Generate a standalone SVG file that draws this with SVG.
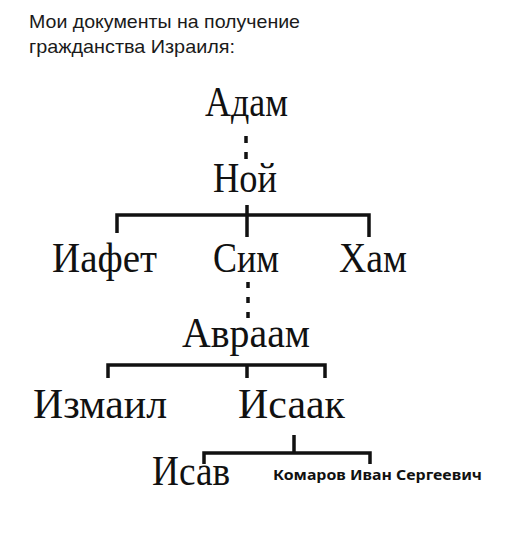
<svg xmlns="http://www.w3.org/2000/svg" width="526" height="539" viewBox="0 0 526 539">
<style>
.hdr{font-family:"Liberation Sans",Arial,sans-serif;font-size:18.5px;fill:#1a1a1a}
.nm{font-family:"Liberation Serif","Times New Roman",serif;font-size:43px;fill:#111}
.sm{font-family:"Noto Sans","Open Sans",sans-serif;font-size:14px;font-weight:bold;fill:#111}
.ln{stroke:#111;stroke-width:3.5;fill:none}
.dt{stroke:#111;stroke-width:3.5;fill:none}
</style>
<rect width="526" height="539" fill="#fff"/>
<g id="header">
<text class="hdr" x="29" y="28" textLength="271" lengthAdjust="spacingAndGlyphs">Мои документы на получение</text>
<text class="hdr" x="29" y="53" textLength="206" lengthAdjust="spacingAndGlyphs">гражданства Израиля:</text>
</g>
<g id="connectors">
<path class="dt" d="M246 136V143M246 152V159"/>
<path class="ln" d="M247 205V237M117 233V215H369V237"/>
<path class="dt" d="M248 282V288M248 297V303M248 312V318"/>
<path class="ln" d="M108 378V365H325V378M247 365V378"/>
<path class="ln" d="M294 435V453M204 464V453H370V464"/>
</g>
<g id="adam"><text class="nm" x="205" y="116" textLength="83" lengthAdjust="spacingAndGlyphs">Адам</text></g>
<g id="noah"><text class="nm" x="213" y="192" textLength="64" lengthAdjust="spacingAndGlyphs">Ной</text></g>
<g id="japheth"><text class="nm" x="52" y="272" textLength="105" lengthAdjust="spacingAndGlyphs">Иафет</text></g>
<g id="shem"><text class="nm" x="213" y="272" textLength="66" lengthAdjust="spacingAndGlyphs">Сим</text></g>
<g id="ham"><text class="nm" x="339" y="272" textLength="68" lengthAdjust="spacingAndGlyphs">Хам</text></g>
<g id="abraham"><text class="nm" x="182" y="347" textLength="128" lengthAdjust="spacingAndGlyphs">Авраам</text></g>
<g id="ishmael"><text class="nm" x="33" y="418" textLength="134" lengthAdjust="spacingAndGlyphs">Измаил</text></g>
<g id="isaac"><text class="nm" x="238" y="418" textLength="107" lengthAdjust="spacingAndGlyphs">Исаак</text></g>
<g id="esau"><text class="nm" x="152" y="485" textLength="78" lengthAdjust="spacingAndGlyphs">Исав</text></g>
<g id="komarov"><text class="sm" x="273" y="480" textLength="209" lengthAdjust="spacingAndGlyphs">Комаров Иван Сергеевич</text></g>
</svg>
